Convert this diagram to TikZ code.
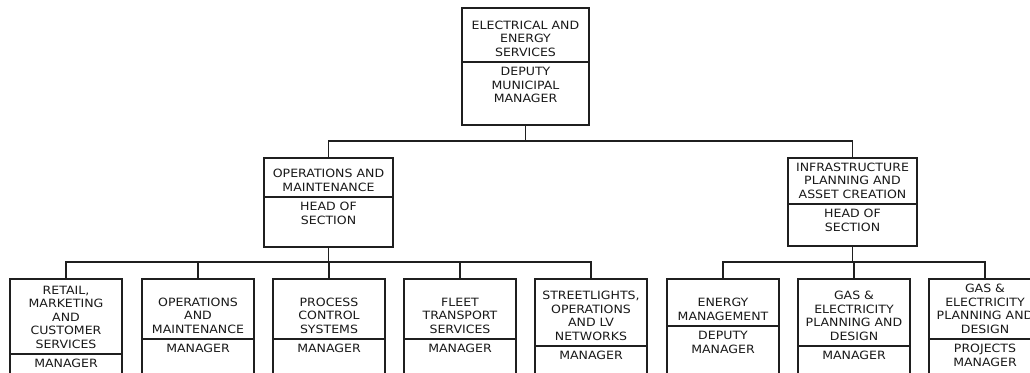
\documentclass[tikz,border=0pt]{standalone}
\usepackage{fontspec}
\setmainfont{DejaVu Sans}[FakeStretch=1.1]
\newcommand\orgbox[8]{%
  \node[obox, minimum width=#5pt, minimum height=#4pt, anchor=north] (#1) at (#2,#3) {};
  \draw[oline] (#1.west |- 0,#6) -- (#1.east |- 0,#6);
  \pgfmathsetmacro\upy{#6-5.5}%
  \pgfmathsetmacro\loy{#6+5}%
  \node[otext, anchor=south] (#1-up) at (#2,\upy) {#7};
  \node[otext, anchor=north] (#1-lo) at (#2,\loy) {#8};
}
\begin{document}
\begin{tikzpicture}[x=1pt,y=-1pt,
  obox/.style={draw=black!88, line width=1.6pt, inner sep=0pt, fill=none},
  oline/.style={draw=black!88, line width=1.4pt},
  otext/.style={inner sep=0pt, align=center, text=black!90,
    font=\fontsize{11.4}{13.5}\selectfont},
  conn/.style={draw=black!88, line width=1.5pt}]
\useasboundingbox (0,0) rectangle (1030,372);
\fill[white] (0,0) rectangle (1030,372);
\clip (0,0) rectangle (1030,372);
% top
\orgbox{top}{525.5}{7}{117}{127}{62}{ELECTRICAL AND\\ENERGY\\SERVICES}{DEPUTY\\MUNICIPAL\\MANAGER}
% middle
\orgbox{ml}{328.5}{157}{89}{129}{197}{OPERATIONS AND\\MAINTENANCE}{HEAD OF\\SECTION}
\orgbox{mr}{852.5}{157}{88}{129}{204}{INFRASTRUCTURE\\PLANNING AND\\ASSET CREATION}{HEAD OF\\SECTION}
% bottom
\orgbox{b1}{66}{278}{104}{112}{354}{RETAIL,\\MARKETING\\AND\\CUSTOMER\\SERVICES}{MANAGER}
\orgbox{b2}{198}{278}{104}{112}{339}{OPERATIONS\\AND\\MAINTENANCE}{MANAGER}
\orgbox{b3}{329}{278}{104}{112}{339}{PROCESS\\CONTROL\\SYSTEMS}{MANAGER}
\orgbox{b4}{460}{278}{104}{112}{339}{FLEET\\TRANSPORT\\SERVICES}{MANAGER}
\orgbox{b5}{591}{278}{104}{112}{346}{STREETLIGHTS,\\OPERATIONS\\AND LV\\NETWORKS}{MANAGER}
\orgbox{b6}{723}{278}{104}{112}{326}{ENERGY\\MANAGEMENT}{DEPUTY\\MANAGER}
\orgbox{b7}{854}{278}{104}{112}{346}{GAS \&\\ELECTRICITY\\PLANNING AND\\DESIGN}{MANAGER}
\orgbox{b8}{985}{278}{104}{112}{339}{GAS \&\\ELECTRICITY\\PLANNING AND\\DESIGN}{PROJECTS\\MANAGER}
% junctions
\coordinate (j0) at (525.5,141);
\coordinate (jl) at (328.5,262);
\coordinate (jr) at (852.5,262);
% connectors
\draw[conn] (top.south) -- (j0);
\draw[conn] (ml.north) |- (j0) -| (mr.north);
\draw[conn] (ml.south) -- (jl);
\foreach \c in {b1,b2,b3,b4,b5} \draw[conn] (\c.north) |- (jl);
\draw[conn] (mr.south) -- (jr);
\foreach \c in {b6,b7,b8} \draw[conn] (\c.north) |- (jr);
\end{tikzpicture}
\end{document}
